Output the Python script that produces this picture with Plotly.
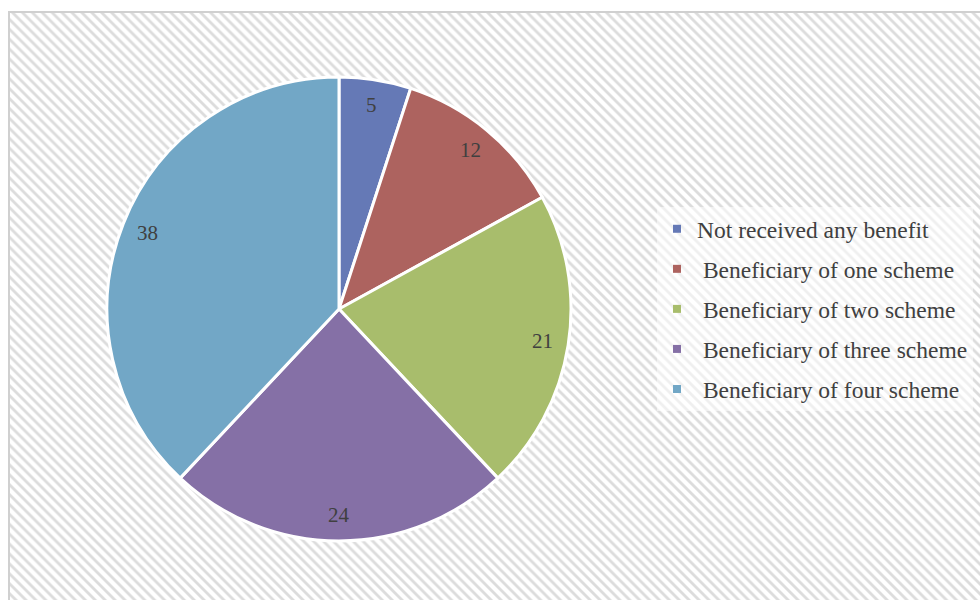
import numpy as np
import plotly.graph_objects as go

labels = ["Not received any benefit", "\u00a0Beneficiary of one scheme", "\u00a0Beneficiary of two scheme",
          "\u00a0Beneficiary of three scheme", "\u00a0Beneficiary of four scheme"]
values = [5, 12, 21, 24, 38]
colors = ["#6579b6", "#ad635f", "#a8bd6c", "#8570a6", "#72a7c6"]

W, H = 980, 600
FONT = "Liberation Serif"

# pie geometry (pixels)
CX, CY, R = 339, 309, 232

fig = go.Figure()

# hatched chart-area background
bx0, by1 = 9 / W, 1 - 12 / H
fig.add_trace(go.Scatter(
    x=[bx0, 1, 1, bx0, bx0], y=[0, 0, by1, by1, 0], mode="lines",
    line=dict(width=0), fill="toself", fillcolor="white",
    fillpattern=dict(shape="\\", size=7, solidity=0.4, fgcolor="#dcdcdc", bgcolor="white", fillmode="replace"),
    hoverinfo="skip", showlegend=False))

fig.add_trace(go.Pie(
    labels=labels, values=values, sort=False, direction="clockwise", rotation=0,
    marker=dict(colors=colors, line=dict(color="white", width=3)),
    textinfo="none",
    domain=dict(x=[(CX - R) / W, (CX + R) / W], y=[1 - (CY + R) / H, 1 - (CY - R) / H]),
    showlegend=False, hoverinfo="label+value"))

# data labels placed at the "inside end" of each slice
vals = np.array(values, dtype=float)
cum = np.cumsum(vals) - vals / 2
theta = cum / vals.sum() * 2 * np.pi
rl = 0.89 * R
for v, t in zip(values, theta):
    fig.add_annotation(
        x=(CX + rl * np.sin(t)) / W, y=1 - (CY - rl * np.cos(t)) / H,
        xref="paper", yref="paper", xanchor="center", yanchor="middle",
        text=str(v), showarrow=False,
        font=dict(family=FONT, size=21, color="#404040"))

for i, (lab, col) in enumerate(zip(labels, colors)):
    fig.add_trace(go.Scatter(
        x=[None], y=[None], mode="markers", name=lab, legendgroup=f"g{i}",
        marker=dict(symbol="square", size=8, color=col), showlegend=True))

fig.add_shape(type="rect", xref="paper", yref="paper", x0=bx0, x1=1.05, y0=-0.05, y1=by1,
              line=dict(color="#d0d0d0", width=2), fillcolor="rgba(0,0,0,0)")

fig.update_layout(
    width=W, height=H, margin=dict(l=0, r=0, t=0, b=0),
    paper_bgcolor="white", plot_bgcolor="white",
    xaxis=dict(range=[0, 1], visible=False, fixedrange=True, domain=[0, 1]),
    yaxis=dict(range=[0, 1], visible=False, fixedrange=True, domain=[0, 1]),
    showlegend=True,
    legend=dict(x=657 / W, xanchor="left", y=1 - CY / H, yanchor="middle",
                font=dict(family=FONT, size=23.5, color="#404040"),
                bgcolor="rgba(255,255,255,0.55)", tracegroupgap=6.5, itemsizing="trace"),
)

fig.write_html("out.html")
